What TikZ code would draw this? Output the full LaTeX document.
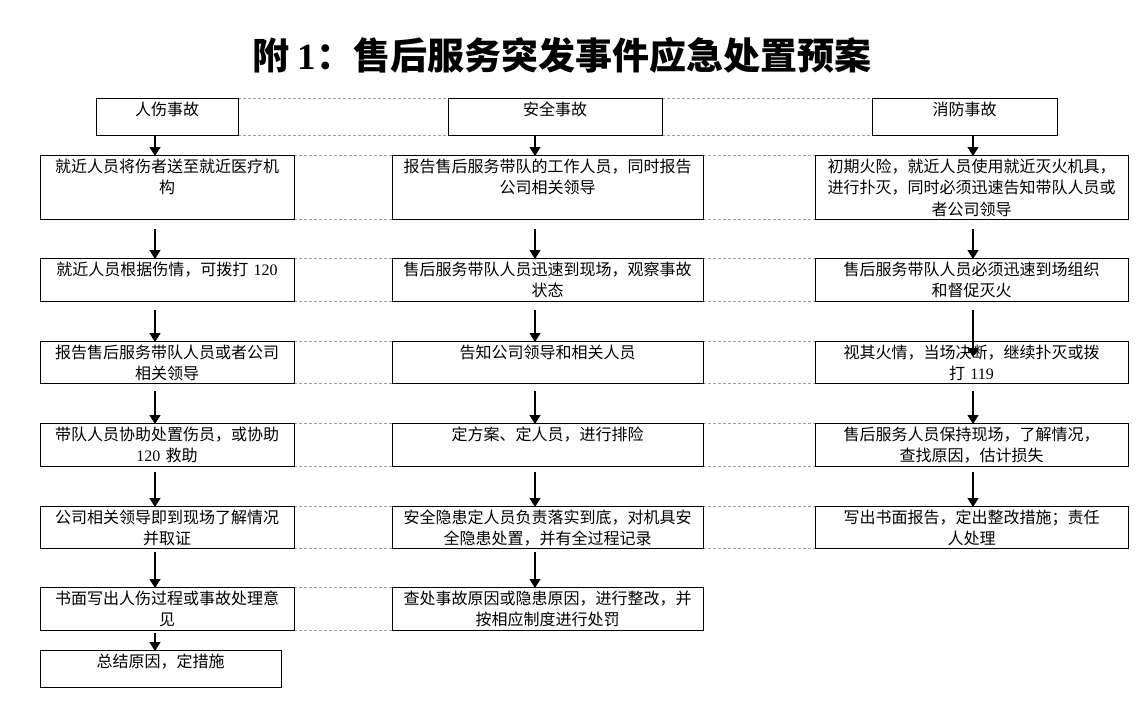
\documentclass[tikz,border=0pt]{standalone}
\usepackage{fontspec}
\setmainfont{Noto Sans CJK SC}
\newfontfamily\lat{Liberation Serif}
\usetikzlibrary{arrows.meta}
\tikzset{
  box/.style={draw=black, line width=1pt, inner sep=0pt, outer sep=0pt, anchor=north west},
  txt/.style={anchor=base, align=center, inner sep=0pt, text width=#1, font=\fontsize{16}{21.5}\selectfont},
  arr/.style={line width=1.3pt, -{Triangle[width=11pt,length=9pt]}},
  gridline/.style={draw=gray!75, line width=0.7pt, dash pattern=on 3pt off 2pt},
}
\begin{document}
\begin{tikzpicture}[x=1pt,y=-1pt]
\useasboundingbox (0,0) rectangle (1139,715);
\fill[white] (0,0) rectangle (1139,715);

% table grid lines (dashed)
\foreach \y in {98,135}{
  \draw[gridline] (238,\y) -- (448,\y);
  \draw[gridline] (662,\y) -- (872,\y);
}
\foreach \y in {155,219,258,301,341,383,423,466,506,548}{
  \draw[gridline] (294,\y) -- (392,\y);
  \draw[gridline] (703,\y) -- (815,\y);
}
\foreach \y in {587,630}{
  \draw[gridline] (294,\y) -- (392,\y);
}

% title
\node[font=\fontsize{37}{40}\selectfont\bfseries] (title) at (562,55) {附 {\lat 1}：售后服务突发事件应急处置预案};

% column 1
\node[box, minimum width=142pt, minimum height=37pt] (c1a) at (96,98) {};
\node[box, minimum width=254pt, minimum height=64pt] (c1b) at (40,155) {};
\node[box, minimum width=254pt, minimum height=43pt] (c1c) at (40,258) {};
\node[box, minimum width=254pt, minimum height=42pt] (c1d) at (40,341) {};
\node[box, minimum width=254pt, minimum height=43pt] (c1e) at (40,423) {};
\node[box, minimum width=254pt, minimum height=42pt] (c1f) at (40,506) {};
\node[box, minimum width=254pt, minimum height=43pt] (c1g) at (40,587) {};
\node[box, minimum width=241pt, minimum height=37pt] (c1h) at (40,650) {};

% column 2
\node[box, minimum width=214pt, minimum height=37pt] (c2a) at (448,98) {};
\node[box, minimum width=311pt, minimum height=64pt] (c2b) at (392,155) {};
\node[box, minimum width=311pt, minimum height=43pt] (c2c) at (392,258) {};
\node[box, minimum width=311pt, minimum height=42pt] (c2d) at (392,341) {};
\node[box, minimum width=311pt, minimum height=43pt] (c2e) at (392,423) {};
\node[box, minimum width=311pt, minimum height=42pt] (c2f) at (392,506) {};
\node[box, minimum width=311pt, minimum height=43pt] (c2g) at (392,587) {};

% column 3
\node[box, minimum width=185pt, minimum height=37pt] (c3a) at (872,98) {};
\node[box, minimum width=313pt, minimum height=64pt] (c3b) at (815,155) {};
\node[box, minimum width=313pt, minimum height=43pt] (c3c) at (815,258) {};
\node[box, minimum width=313pt, minimum height=42pt] (c3d) at (815,341) {};
\node[box, minimum width=313pt, minimum height=43pt] (c3e) at (815,423) {};
\node[box, minimum width=313pt, minimum height=42pt] (c3f) at (815,506) {};

% texts column 1
\node[txt=200pt] (t1a) at ([yshift=-17pt]c1a.north) {人伤事故};
\node[txt=250pt] (t1b) at ([yshift=-17pt]c1b.north) {就近人员将伤者送至就近医疗机\\构};
\node[txt=250pt] (t1c) at ([yshift=-17pt]c1c.north) {就近人员根据伤情，可拨打 {\lat 120}};
\node[txt=250pt] (t1d) at ([yshift=-17pt]c1d.north) {报告售后服务带队人员或者公司\\相关领导};
\node[txt=250pt] (t1e) at ([yshift=-17pt]c1e.north) {带队人员协助处置伤员，或协助\\{\lat 120} 救助};
\node[txt=250pt] (t1f) at ([yshift=-17pt]c1f.north) {公司相关领导即到现场了解情况\\并取证};
\node[txt=250pt] (t1g) at ([yshift=-17pt]c1g.north) {书面写出人伤过程或事故处理意\\见};
\node[txt=237pt] (t1h) at ([yshift=-17pt]c1h.north) {总结原因，定措施};

% texts column 2
\node[txt=210pt] (t2a) at ([yshift=-17pt]c2a.north) {安全事故};
\node[txt=307pt] (t2b) at ([yshift=-17pt]c2b.north) {报告售后服务带队的工作人员，同时报告\\公司相关领导};
\node[txt=307pt] (t2c) at ([yshift=-17pt]c2c.north) {售后服务带队人员迅速到现场，观察事故\\状态};
\node[txt=307pt] (t2d) at ([yshift=-17pt]c2d.north) {告知公司领导和相关人员};
\node[txt=307pt] (t2e) at ([yshift=-17pt]c2e.north) {定方案、定人员，进行排险};
\node[txt=307pt] (t2f) at ([yshift=-17pt]c2f.north) {安全隐患定人员负责落实到底，对机具安\\全隐患处置，并有全过程记录};
\node[txt=307pt] (t2g) at ([yshift=-17pt]c2g.north) {查处事故原因或隐患原因，进行整改，并\\按相应制度进行处罚};

% texts column 3
\node[txt=181pt] (t3a) at ([yshift=-17pt]c3a.north) {消防事故};
\node[txt=309pt] (t3b) at ([yshift=-17pt]c3b.north) {初期火险，就近人员使用就近灭火机具，\\进行扑灭，同时必须迅速告知带队人员或\\者公司领导};
\node[txt=309pt] (t3c) at ([yshift=-17pt]c3c.north) {售后服务带队人员必须迅速到场组织\\和督促灭火};
\node[txt=309pt] (t3d) at ([yshift=-17pt]c3d.north) {视其火情，当场决断，继续扑灭或拨\\打 {\lat 119}};
\node[txt=309pt] (t3e) at ([yshift=-17pt]c3e.north) {售后服务人员保持现场，了解情况，\\查找原因，估计损失};
\node[txt=309pt] (t3f) at ([yshift=-17pt]c3f.north) {写出书面报告，定出整改措施；责任\\人处理};

% arrow x positions
\coordinate (ax1) at (155,0);
\coordinate (ax2) at (535,0);
\coordinate (ax3) at (973,0);

% arrows column 1
\draw[arr] (c1a.south -| ax1) -- ([yshift=-1pt]c1b.north -| ax1);
\coordinate (s1b) at (c1b.south -| ax1);
\coordinate (s1c) at (c1c.south -| ax1);
\coordinate (s1d) at (c1d.south -| ax1);
\coordinate (s1e) at (c1e.south -| ax1);
\coordinate (s1f) at (c1f.south -| ax1);
\coordinate (s1g) at (c1g.south -| ax1);
\draw[arr] ([yshift=-10pt]s1b) -- ([yshift=-1pt]c1c.north -| ax1);
\draw[arr] ([yshift=-9pt]s1c) -- ([yshift=-1pt]c1d.north -| ax1);
\draw[arr] ([yshift=-8pt]s1d) -- ([yshift=-1pt]c1e.north -| ax1);
\draw[arr] ([yshift=-6pt]s1e) -- ([yshift=-1pt]c1f.north -| ax1);
\draw[arr] ([yshift=-4pt]s1f) -- ([yshift=-1pt]c1g.north -| ax1);
\draw[arr] ([yshift=-3pt]s1g) -- ([yshift=-1pt]c1h.north -| ax1);

% arrows column 2
\draw[arr] (c2a.south -| ax2) -- ([yshift=-1pt]c2b.north -| ax2);
\coordinate (s2b) at (c2b.south -| ax2);
\coordinate (s2c) at (c2c.south -| ax2);
\coordinate (s2d) at (c2d.south -| ax2);
\coordinate (s2e) at (c2e.south -| ax2);
\coordinate (s2f) at (c2f.south -| ax2);
\draw[arr] ([yshift=-10pt]s2b) -- ([yshift=-1pt]c2c.north -| ax2);
\draw[arr] ([yshift=-9pt]s2c) -- ([yshift=-1pt]c2d.north -| ax2);
\draw[arr] ([yshift=-8pt]s2d) -- ([yshift=-1pt]c2e.north -| ax2);
\draw[arr] ([yshift=-6pt]s2e) -- ([yshift=-1pt]c2f.north -| ax2);
\draw[arr] ([yshift=-4pt]s2f) -- ([yshift=-1pt]c2g.north -| ax2);

% arrows column 3
\draw[arr] (c3a.south -| ax3) -- ([yshift=-1pt]c3b.north -| ax3);
\coordinate (s3b) at (c3b.south -| ax3);
\coordinate (s3c) at (c3c.south -| ax3);
\coordinate (s3d) at (c3d.south -| ax3);
\coordinate (s3e) at (c3e.south -| ax3);
\draw[arr] ([yshift=-10pt]s3b) -- ([yshift=-1pt]c3c.north -| ax3);
\draw[arr] ([yshift=-9pt]s3c) -- ([yshift=-16pt]c3d.north -| ax3);
\draw[arr] ([yshift=-8pt]s3d) -- ([yshift=-1pt]c3e.north -| ax3);
\draw[arr] ([yshift=-6pt]s3e) -- ([yshift=-1pt]c3f.north -| ax3);
\end{tikzpicture}
\end{document}
